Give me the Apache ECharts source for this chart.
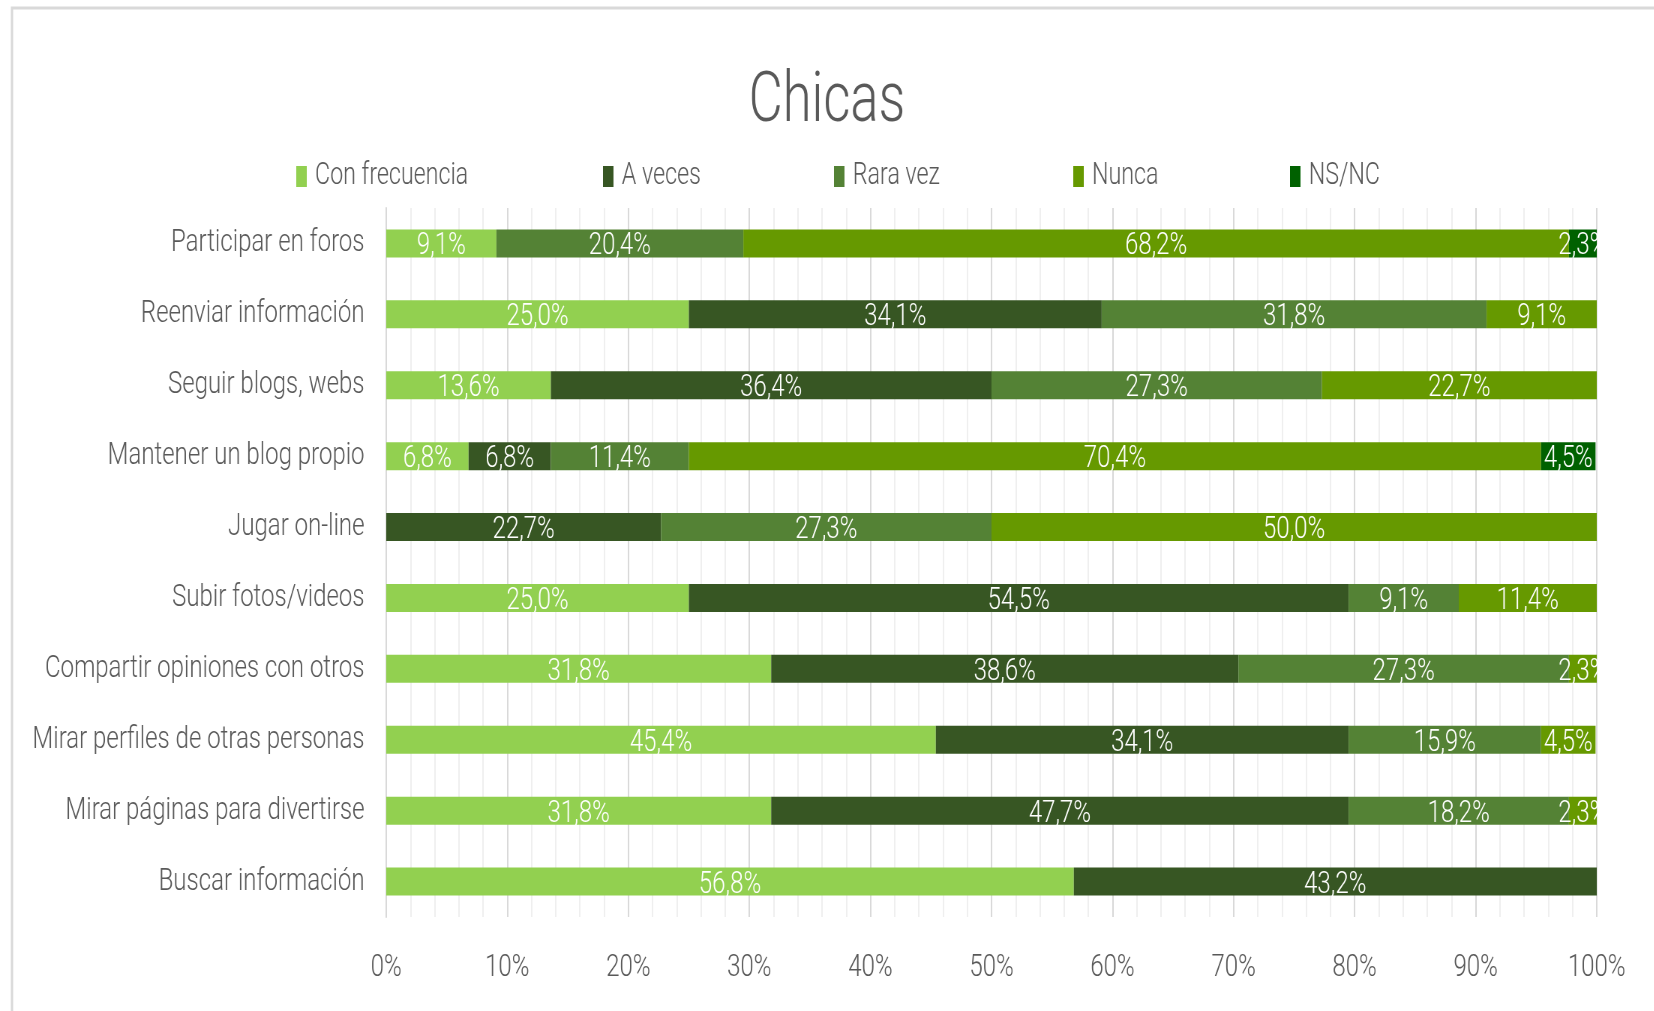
<!DOCTYPE html>
<html>
<head>
<meta charset="utf-8">
<script src="https://cdn.jsdelivr.net/npm/echarts@6/dist/echarts.min.js"></script>
<style>
html,body{margin:0;padding:0;background:#fff;overflow:hidden;}
#wrap{width:1654px;height:1011px;overflow:hidden;position:relative;}
#chart{width:2205px;height:1011px;transform:scaleX(0.75);transform-origin:0 0;position:absolute;left:0;top:0;}
</style>
</head>
<body>
<div id="wrap"><div id="chart"></div></div>
<script>
const categories = [
  'Participar en foros',
  'Reenviar información',
  'Seguir blogs, webs',
  'Mantener un blog propio',
  'Jugar on-line',
  'Subir fotos/videos',
  'Compartir opiniones con otros',
  'Mirar perfiles de otras personas',
  'Mirar páginas para divertirse',
  'Buscar información'
];
const seriesNames = ['Con frecuencia', 'A veces', 'Rara vez', 'Nunca', 'NS/NC'];
const conFrecuencia = [9.1, 25.0, 13.6, 6.8, null, 25.0, 31.8, 45.4, 31.8, 56.8];
const aVeces        = [null, 34.1, 36.4, 6.8, 22.7, 54.5, 38.6, 34.1, 47.7, 43.2];
const raraVez       = [20.4, 31.8, 27.3, 11.4, 27.3, 9.1, 27.3, 15.9, 18.2, null];
const nunca         = [68.2, 9.1, 22.7, 70.4, 50.0, 11.4, 2.3, 4.5, 2.3, null];
const nsnc          = [2.3, null, null, 4.5, null, null, null, null, null, null];
const xTicks = [0, 10, 20, 30, 40, 50, 60, 70, 80, 90, 100];

const colors = ['#92D050', '#375623', '#548235', '#669900', '#006100'];
const FONT = "Roboto, 'Liberation Sans', sans-serif";
const FW = 300;
const allData = [conFrecuencia, aVeces, raraVez, nunca, nsnc];
const legendLefts = [395, 804, 1112, 1431, 1720];

const chart = echarts.init(document.getElementById('chart'));
const option = {
  animation: false,
  backgroundColor: '#ffffff',
  color: colors,
  title: {
    text: 'Chicas',
    left: 'center',
    top: 68,
    padding: [0, 0, 0, 16],
    textStyle: { fontFamily: FONT, fontSize: 70, fontWeight: FW, color: '#595959' }
  },
  graphic: [{
    type: 'rect',
    shape: { x: 16, y: 8, width: 2400, height: 1100 },
    style: { fill: 'none', stroke: '#D9D9D9', lineWidth: 3 },
    silent: true
  }],
  legend: seriesNames.map((n, i) => ({
    data: [n],
    left: legendLefts[i],
    top: 161,
    icon: 'rect',
    itemWidth: 14,
    itemHeight: 21,
    padding: 0,
    textStyle: { fontFamily: FONT, fontSize: 31, fontWeight: FW, color: '#595959', padding: [0, 0, 0, 6] }
  })),
  grid: { left: 515, right: 76, top: 208, bottom: 94, containLabel: false, outerBoundsMode: 'none' },
  xAxis: {
    type: 'value',
    min: xTicks[0],
    max: xTicks[xTicks.length - 1],
    interval: 10,
    axisLine: { show: false },
    axisTick: { show: false },
    axisLabel: {
      formatter: v => v + '%',
      fontFamily: FONT, fontSize: 32, fontWeight: FW, color: '#595959', margin: 35
    },
    splitLine: { show: true, lineStyle: { color: '#D9D9D9', width: 2 } },
    minorTick: { show: false, splitNumber: 5 },
    minorSplitLine: { show: true, lineStyle: { color: '#EFEFEF', width: 2 } }
  },
  yAxis: {
    type: 'category',
    data: categories,
    inverse: true,
    axisLine: { show: true, lineStyle: { color: '#D9D9D9', width: 2 } },
    axisTick: { show: false },
    axisLabel: { fontFamily: FONT, fontSize: 32, fontWeight: FW, color: '#595959', margin: 29 }
  },
  series: seriesNames.map((n, i) => ({
    name: n,
    type: 'bar',
    stack: 'total',
    barWidth: 28,
    data: allData[i],
    itemStyle: { color: colors[i] },
    label: {
      show: true,
      position: 'inside',
      color: '#ffffff',
      fontFamily: FONT,
      fontSize: 32,
      fontWeight: FW,
      offset: [0, 3],
      formatter: p => (p.value == null || p.value === 0) ? '' : p.value.toFixed(1).replace('.', ',') + '%'
    }
  }))
};
chart.setOption(option);
</script>
</body>
</html>
